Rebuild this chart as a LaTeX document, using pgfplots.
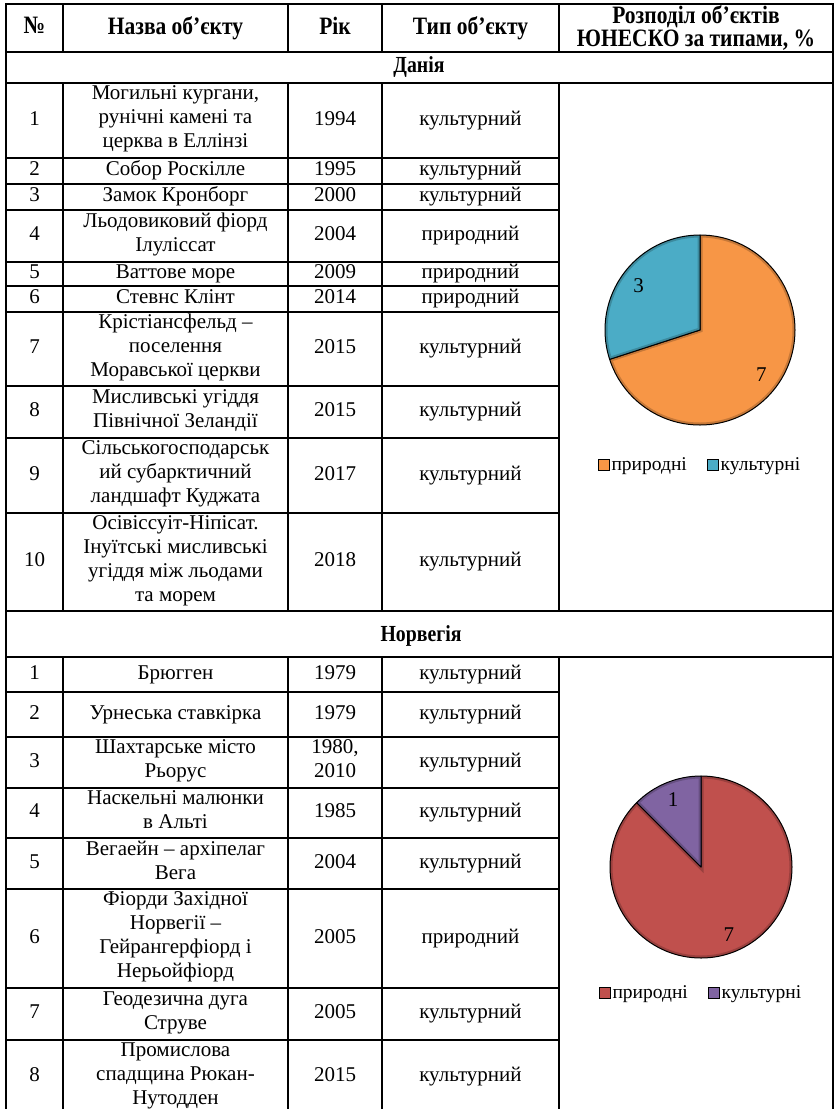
\documentclass[border=0pt]{standalone}
\usepackage{pgfplots}
\pgfplotsset{compat=1.18}
\usepackage{pgfplotstable}
\usepackage{fontspec}
\setmainfont{Liberation Serif}
\newfontfamily\narrowbold[FakeStretch=0.86]{Liberation Serif Bold}

\definecolor{pieorange}{HTML}{F79646}
\definecolor{pieblue}{HTML}{4BACC6}
\definecolor{piered}{HTML}{C0504D}
\definecolor{piepurple}{HTML}{8064A2}

% number of objects by type (values as printed on the pies)
\pgfplotstableread{
type value
природні 7
культурні 3
}\denmarktypes
\pgfplotstableread{
type value
природні 7
культурні 1
}\norwaytypes

\newcommand\txt{\fontsize{21}{24}\selectfont}
\newcommand\hdr{\fontsize{25}{23.5}\narrowbold}
\newcommand\secfont{\fontsize{23}{24}\narrowbold}

% one table row: top, bottom, no, name, year, type
\newcommand\tabrow[6]{%
  \node[cell] at (34.5,{(#1+#2)/2}) {#3};
  \node[cell] at (175.5,{(#1+#2)/2}) {#4};
  \node[cell] at (335,{(#1+#2)/2}) {#5};
  \node[cell] at (470.5,{(#1+#2)/2}) {#6};
  \draw[rule] (6,#2) -- (559,#2);
}

% pie sector inside an axis: colour, start, end, radius(pt)
\newcommand\sector[4]{%
  \begin{scope}
    \clip (axis cs:0,0) -- ++(#2:#4pt) arc[start angle=#2,end angle=#3,radius=#4pt] -- cycle;
    \fill[#1] (axis cs:0,0) -- ++(#2:#4pt) arc[start angle=#2,end angle=#3,radius=#4pt] -- cycle;
    \draw[#1!80!black, line width=5pt] (axis cs:0,0) -- ++(#2:#4pt) arc[start angle=#2,end angle=#3,radius=#4pt] -- cycle;
  \end{scope}
  \draw[black, line width=1pt, line join=round] (axis cs:0,0) -- ++(#2:#4pt) arc[start angle=#2,end angle=#3,radius=#4pt] -- cycle;
}

\pgfplotsset{
  pie/.style={
    hide axis, scale only axis, clip=false,
    xmin=-1, xmax=1, ymin=-1, ymax=1,
    legend columns=2,
    legend image code/.code={\draw[##1, line width=0.8pt] (0pt,-5.5pt) rectangle (11pt,5.5pt);},
    legend style={draw=none, fill=none, anchor=center, inner sep=0pt,
      font=\fontsize{19.5}{21}\selectfont,
      nodes={inner sep=1.5pt},
      /tikz/every even column/.append style={column sep=19pt}},
  }
}

\begin{document}
\begin{tikzpicture}[x=1pt, y=-1pt,
  cell/.style={align=center, inner sep=0pt, font=\txt,
    execute at begin node=\strut, execute at end node=\strut},
  rule/.style={line width=1.6pt, line cap=rect}]
\useasboundingbox (0,0) rectangle (835,1109);
\clip (0,0) rectangle (835,1109);

% header
\node[cell, font=\hdr] at (34.5,29) {№};
\node[cell, font=\hdr] at (175.5,29) {Назва об’єкту};
\node[cell, font=\hdr] at (335,29) {Рік};
\node[cell, font=\hdr] at (470.5,29) {Тип об’єкту};
\node[cell, font=\hdr] at (696,29.5) {Розподіл об’єктів\\ЮНЕСКО за типами, \%};

% frame and separators
\draw[rule] (6,4) -- (833,4);
\draw[rule] (6,4) -- (6,1115);
\draw[rule] (833,4) -- (833,1115);
\foreach \y in {52,83,611,657} \draw[rule] (6,\y) -- (833,\y);
\foreach \x in {63,288,382,559} {
  \draw[rule] (\x,4) -- (\x,52);
  \draw[rule] (\x,83) -- (\x,611);
  \draw[rule] (\x,657) -- (\x,1115);
}

% Denmark
\node[cell, font=\secfont] at (419,68) {Данія};
\tabrow{83}{158}{1}{Могильні кургани,\\рунічні камені та\\церква в Еллінзі}{1994}{культурний}
\tabrow{158}{184}{2}{Собор Роскілле}{1995}{культурний}
\tabrow{184}{210}{3}{Замок Кронборг}{2000}{культурний}
\tabrow{210}{262}{4}{Льодовиковий фіорд\\Ілуліссат}{2004}{природний}
\tabrow{262}{286}{5}{Ваттове море}{2009}{природний}
\tabrow{286}{312}{6}{Стевнс Клінт}{2014}{природний}
\tabrow{312}{386}{7}{Крістіансфельд –\\поселення\\Моравської церкви}{2015}{культурний}
\tabrow{386}{438}{8}{Мисливські угіддя\\Північної Зеландії}{2015}{культурний}
\tabrow{438}{513}{9}{Сільськогосподарськ\\ий субарктичний\\ландшафт Куджата}{2017}{культурний}
\tabrow{513}{611}{10}{Осівіссуіт-Ніпісат.\\Інуїтські мисливські\\угіддя між льодами\\та морем}{2018}{культурний}

% Norway
\node[cell, font=\secfont] at (421,637) {Норвегія};
\tabrow{657}{692}{1}{Брюгген}{1979}{культурний}
\tabrow{692}{737}{2}{Урнеська ставкірка}{1979}{культурний}
\tabrow{737}{788}{3}{Шахтарське місто\\Рьорус}{1980,\\2010}{культурний}
\tabrow{788}{838}{4}{Наскельні малюнки\\в Альті}{1985}{культурний}
\tabrow{838}{889}{5}{Вегаейн – архіпелаг\\Вега}{2004}{культурний}
\tabrow{889}{988}{6}{Фіорди Західної\\Норвегії –\\Гейрангерфіорд і\\Нерьойфіорд}{2005}{природний}
\tabrow{988}{1040}{7}{Геодезична дуга\\Струве}{2005}{культурний}
\tabrow{1040}{1114}{8}{Промислова\\спадщина Рюкан-\\Нутодден}{2015}{культурний}

% Denmark pie
\pgfplotstablegetelem{0}{value}\of\denmarktypes \let\da\pgfplotsretval
\pgfplotstablegetelem{1}{value}\of\denmarktypes \let\db\pgfplotsretval
\pgfmathsetmacro\dsplit{90-360*\da/(\da+\db)}
\pgfmathsetmacro\dma{(90+\dsplit)/2}
\pgfmathsetmacro\dmb{(\dsplit-270)/2}
\begin{axis}[pie, at={(700pt,-330pt)}, anchor=center, width=190pt, height=190pt,
  legend style={at={(0.5,-0.21)}}]
\addlegendimage{fill=pieorange, draw=black}
\addlegendentry{природні}
\addlegendimage{fill=pieblue, draw=black}
\addlegendentry{культурні}
\sector{pieorange}{90}{\dsplit}{95}
\sector{pieblue}{\dsplit}{-270}{95}
\node[font=\fontsize{21}{22}\selectfont] at (axis cs:{0.8*cos(\dma)},{0.8*sin(\dma)}) {\da};
\node[font=\fontsize{21}{22}\selectfont] at (axis cs:{0.8*cos(\dmb)},{0.8*sin(\dmb)}) {\db};
\end{axis}

% Norway pie
\pgfplotstablegetelem{0}{value}\of\norwaytypes \let\na\pgfplotsretval
\pgfplotstablegetelem{1}{value}\of\norwaytypes \let\nb\pgfplotsretval
\pgfmathsetmacro\nsplit{90-360*\na/(\na+\nb)}
\pgfmathsetmacro\nma{(90+\nsplit)/2}
\pgfmathsetmacro\nmb{(\nsplit-270)/2}
\begin{axis}[pie, at={(701pt,-867pt)}, anchor=center, width=182pt, height=182pt,
  legend style={at={(0.5,-0.19)}}]
\addlegendimage{fill=piered, draw=black}
\addlegendentry{природні}
\addlegendimage{fill=piepurple, draw=black}
\addlegendentry{культурні}
\sector{piered}{90}{\nsplit}{91}
\sector{piepurple}{\nsplit}{-270}{91}
\node[font=\fontsize{21}{22}\selectfont] at (axis cs:{0.8*cos(\nma)},{0.8*sin(\nma)}) {\na};
\node[font=\fontsize{21}{22}\selectfont] at (axis cs:{0.8*cos(\nmb)},{0.8*sin(\nmb)}) {\nb};
\end{axis}
\end{tikzpicture}
\end{document}
